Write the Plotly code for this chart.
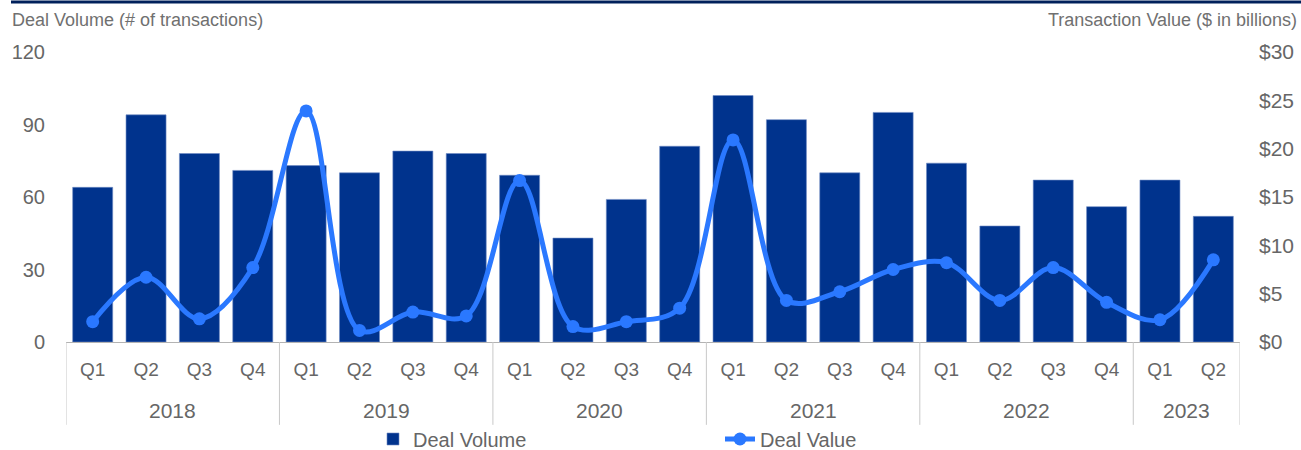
import plotly.graph_objects as go

years = ["2018"] * 4 + ["2019"] * 4 + ["2020"] * 4 + ["2021"] * 4 + ["2022"] * 4 + ["2023"] * 2
quarters = ["Q1", "Q2", "Q3", "Q4"] * 5 + ["Q1", "Q2"]
deal_volume = [64, 94, 78, 71, 73, 70, 79, 78, 69, 43, 59, 81, 102, 92, 70, 95, 74, 48, 67, 56, 67, 52]
deal_value = [2.1, 6.7, 2.4, 7.7, 23.9, 1.2, 3.1, 2.7, 16.7, 1.6, 2.1, 3.5, 20.9, 4.3, 5.2, 7.5, 8.2, 4.3, 7.7, 4.1, 2.3, 8.5]
year_labels = ["2018", "2019", "2020", "2021", "2022", "2023"]

left_ticks = [0, 30, 60, 90, 120]
right_ticks = [0, 5, 10, 15, 20, 25, 30]
right_ticktext = ["$" + str(v) for v in right_ticks]

BAR = "#00338D"
LINE = "#2A78FF"
TXT = "#666666"
FONT = "Liberation Sans, Arial, sans-serif"

cats = [y + " " + q for y, q in zip(years, quarters)]

fig = go.Figure()
fig.add_trace(go.Bar(
    x=cats, y=deal_volume, name="Deal Volume",
    marker=dict(color=BAR, line=dict(color="#6f8cc4", width=0.6)),
    yaxis="y",
))
fig.add_trace(go.Scatter(
    x=cats, y=deal_value, name="Deal Value",
    mode="lines+markers",
    line=dict(color=LINE, width=5, shape="spline", smoothing=1.0),
    marker=dict(color=LINE, size=13),
    yaxis="y2",
))

W, H = 1301, 450
ml, mr, mt, mb = 66, 61, 51.5, 108
pw = W - ml - mr
ph = H - mt - mb

def px2x(px):
    return (px - ml) / pw

def py2y(py):
    return (H - mb - py) / ph

# year group boundaries (category index) and centres
bounds = [-0.5]
centres = []
start = 0
for yl in year_labels:
    n = years.count(yl)
    centres.append(start + (n - 1) / 2)
    start += n
    bounds.append(start - 0.5)

shapes = [dict(
    type="line", xref="paper", yref="paper",
    x0=px2x(11), x1=px2x(1301), y0=py2y(1.5), y1=py2y(1.5),
    line=dict(color="#00205B", width=3),
)]
for b in bounds:
    shapes.append(dict(
        type="line", xref="x", yref="paper", x0=b, x1=b,
        y0=py2y(342), y1=py2y(425), line=dict(color="#c8c8c8", width=1),
    ))

annotations = [
    dict(text="Deal Volume (# of transactions)", xref="paper", yref="paper",
         x=px2x(10), y=py2y(19), xanchor="left", yanchor="middle", showarrow=False,
         font=dict(size=18, color="#707070")),
    dict(text="Transaction Value ($ in billions)", xref="paper", yref="paper",
         x=px2x(1299), y=py2y(19), xanchor="right", yanchor="middle", showarrow=False,
         font=dict(size=18, color="#707070")),
]
for yl, c in zip(year_labels, centres):
    annotations.append(dict(
        text=yl, xref="x", yref="paper", x=c, y=py2y(411), xanchor="center",
        yanchor="middle", showarrow=False, font=dict(size=21, color=TXT),
    ))

fig.update_layout(
    width=W, height=H,
    margin=dict(l=ml, r=mr, t=mt, b=mb, pad=0, autoexpand=False),
    paper_bgcolor="white", plot_bgcolor="white",
    font=dict(family=FONT, color=TXT, size=18),
    bargap=0.25,
    showlegend=True,
    legend=dict(
        orientation="h", xref="container", yref="container",
        x=373 / W, xanchor="left", y=1 - 439 / H, yanchor="middle",
        font=dict(size=20, color=TXT), entrywidth=302, entrywidthmode="pixels",
        bgcolor="rgba(0,0,0,0)", tracegroupgap=0,
    ),
    xaxis=dict(
        type="category", range=[-0.5, len(cats) - 0.5], automargin=False,
        tickvals=cats, ticktext=quarters,
        showgrid=False, showline=True, linecolor="#b3b3b3", linewidth=1,
        ticks="", tickfont=dict(size=19, color=TXT), ticklabelstandoff=10,
    ),
    yaxis=dict(
        range=[0, 120], tickvals=left_ticks, showgrid=False, zeroline=False, showline=False,
        ticks="", ticklabelstandoff=20, tickfont=dict(size=20, color=TXT), automargin=False,
    ),
    yaxis2=dict(
        range=[0, 30], tickvals=right_ticks, ticktext=right_ticktext, overlaying="y", side="right",
        showgrid=False, zeroline=False, showline=False, ticks="", ticklabelstandoff=18,
        tickfont=dict(size=21, color=TXT), automargin=False,
    ),
    shapes=shapes,
    annotations=annotations,
)

fig.write_html(
    "out.html",
    config={"displayModeBar": False},
    post_script="document.body.style.margin='0';document.body.style.padding='0';",
)
